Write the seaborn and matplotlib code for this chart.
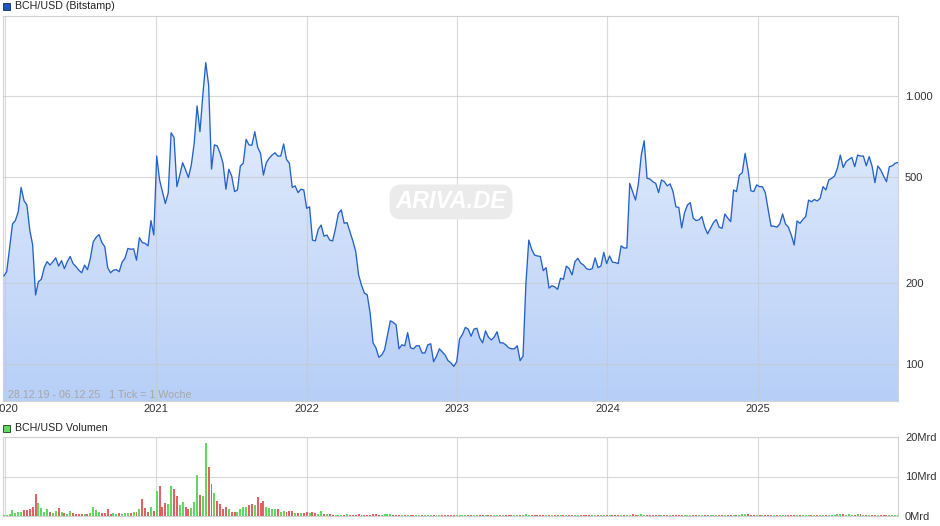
import numpy as np
import pandas as pd
import matplotlib
matplotlib.use("Agg")
import matplotlib.pyplot as plt
import seaborn as sns
from matplotlib.patches import Rectangle
from matplotlib.image import AxesImage
from matplotlib.colors import LinearSegmentedColormap
from matplotlib.ticker import NullLocator

# weekly closes BCH/USD (Bitstamp), 28.12.19 - 06.12.25
price = [
    213, 221, 271, 333, 343, 370, 456, 407, 392, 316,
    278, 181, 203, 207, 229, 241, 234, 241, 249, 232,
    243, 227, 241, 252, 237, 231, 224, 219, 234, 225,
    248, 286, 297, 304, 284, 274, 229, 219, 224, 225,
    221, 240, 248, 270, 268, 269, 244, 296, 284, 282,
    276, 343, 303, 597, 486, 440, 397, 435, 729, 701,
    459, 507, 564, 530, 496, 553, 666, 918, 736, 1009,
    1332, 1099, 534, 657, 651, 611, 561, 449, 533, 503,
    440, 446, 548, 561, 689, 657, 655, 736, 644, 611,
    507, 564, 586, 602, 614, 597, 597, 662, 580, 561,
    456, 462, 436, 449, 446, 381, 386, 290, 288, 318,
    330, 300, 303, 290, 288, 321, 365, 376, 335, 337,
    312, 288, 263, 215, 197, 184, 181, 155, 120, 115,
    106, 108, 113, 128, 145, 143, 140, 114, 118, 117,
    131, 115, 114, 117, 117, 110, 110, 118, 119, 102,
    107, 114, 111, 108, 103, 101, 98, 102, 124, 129,
    137, 135, 127, 135, 136, 125, 120, 133, 126, 123,
    126, 132, 120, 120, 118, 115, 114, 114, 117, 103,
    107, 200, 290, 268, 255, 253, 252, 223, 229, 192,
    196, 194, 190, 209, 207, 232, 227, 215, 241, 248,
    238, 234, 227, 225, 227, 249, 229, 232, 261, 237,
    253, 240, 239, 237, 276, 271, 271, 472, 440, 409,
    472, 602, 681, 493, 490, 479, 472, 436, 486, 479,
    462, 470, 440, 386, 384, 322, 367, 392, 400, 350,
    343, 345, 355, 324, 306, 321, 337, 346, 324, 321,
    363, 350, 340, 446, 440, 507, 517, 611, 530, 443,
    440, 466, 459, 459, 436, 376, 327, 327, 324, 333,
    363, 333, 324, 303, 278, 342, 335, 346, 355, 409,
    403, 411, 406, 415, 459, 446, 486, 493, 503, 538,
    602, 541, 569, 580, 590, 545, 602, 597, 597, 549,
    594, 548, 475, 548, 530, 503, 479, 545, 549, 561,
    565,
]

# weekly volume in Mrd USD
volume = [
    0.25, 0.25, 0.5, 1.5, 0.85, 1.0, 1.0, 1.5, 1.5, 1.75,
    2.3, 5.6, 3.3, 2.0, 1.0, 1.7, 1.0, 0.85, 1.3, 2.0,
    1.0, 0.85, 0.6, 1.3, 0.75, 0.5, 0.5, 0.5, 0.5, 0.5,
    0.7, 2.3, 1.5, 1.0, 0.75, 0.75, 1.75, 0.5, 0.75, 0.5,
    0.75, 0.5, 0.75, 0.75, 0.75, 1.0, 1.0, 1.75, 4.3, 2.0,
    1.0, 2.3, 1.3, 6.3, 7.6, 2.3, 3.3, 3.0, 7.6, 6.8,
    5.1, 2.8, 3.6, 2.3, 1.8, 2.0, 3.6, 10.4, 5.3, 5.1,
    18.5, 12.4, 8.1, 5.9, 3.8, 3.0, 1.8, 2.3, 1.8, 1.0,
    1.0, 1.0, 1.75, 2.3, 2.3, 2.8, 3.0, 2.8, 4.8, 3.3,
    3.8, 2.3, 2.0, 1.75, 1.75, 1.75, 1.0, 1.3, 1.0, 1.3,
    1.3, 0.75, 0.75, 0.75, 0.75, 1.0, 0.75, 1.0, 0.75, 0.5,
    1.3, 0.5, 0.5, 0.5, 0.3, 0.3, 0.3, 0.3, 0.3, 0.5,
    0.3, 0.3, 0.3, 0.5, 0.3, 0.3, 0.3, 0.3, 0.4, 0.4,
    0.3, 0.3, 0.4, 0.4, 0.4, 0.3, 0.25, 0.25, 0.2, 0.2,
    0.2, 0.2, 0.2, 0.2, 0.2, 0.2, 0.2, 0.2, 0.2, 0.2,
    0.2, 0.2, 0.2, 0.2, 0.2, 0.2, 0.25, 0.2, 0.25, 0.2,
    0.2, 0.2, 0.2, 0.2, 0.2, 0.2, 0.2, 0.2, 0.2, 0.2,
    0.2, 0.2, 0.2, 0.2, 0.2, 0.2, 0.2, 0.2, 0.2, 0.2,
    0.2, 0.45, 0.3, 0.25, 0.2, 0.2, 0.2, 0.2, 0.2, 0.2,
    0.2, 0.2, 0.2, 0.2, 0.2, 0.2, 0.2, 0.2, 0.2, 0.2,
    0.2, 0.2, 0.2, 0.2, 0.2, 0.2, 0.2, 0.2, 0.2, 0.2,
    0.2, 0.2, 0.2, 0.2, 0.2, 0.2, 0.2, 0.3, 0.5, 0.3,
    0.3, 0.45, 0.35, 0.25, 0.2, 0.2, 0.2, 0.2, 0.2, 0.2,
    0.2, 0.2, 0.2, 0.2, 0.2, 0.2, 0.2, 0.2, 0.2, 0.2,
    0.2, 0.2, 0.2, 0.2, 0.2, 0.2, 0.2, 0.2, 0.2, 0.2,
    0.2, 0.2, 0.2, 0.3, 0.25, 0.3, 0.45, 0.45, 0.4, 0.3,
    0.2, 0.2, 0.2, 0.2, 0.2, 0.2, 0.2, 0.2, 0.2, 0.2,
    0.3, 0.2, 0.2, 0.2, 0.2, 0.2, 0.2, 0.2, 0.2, 0.2,
    0.2, 0.2, 0.2, 0.2, 0.2, 0.3, 0.35, 0.3, 0.3, 0.45,
    0.45, 0.4, 0.35, 0.45, 0.35, 0.3, 0.45, 0.45, 0.35, 0.3,
    0.3, 0.35, 0.3, 0.3, 0.25, 0.25, 0.3, 0.3, 0.3, 0.35,
    0.3,
]

year_ticks = ["2020", "2021", "2022", "2023", "2024", "2025"]
price_ticks = [100, 200, 500, 1000]
price_labels = ["100", "200", "500", "1.000"]
vol_ticks = [0, 10, 20]
vol_labels = ["0Mrd", "10Mrd", "20Mrd"]

df = pd.DataFrame({
    "date": pd.date_range("2019-12-28", periods=len(price), freq="7D"),
    "price": price,
    "volume": volume,
})
up = df["price"].diff().fillna(1) >= 0
bar_colors = np.where(up, "#62d862", "#e06262")

sns.set_style("white")
plt.rcParams["font.family"] = ["Liberation Sans", "DejaVu Sans"]

W, H = 940, 526
fig = plt.figure(figsize=(W / 100, H / 100), dpi=100)
ax = fig.add_axes([3 / W, 1 - 401 / H, 895 / W, 385 / H])
axv = fig.add_axes([3 / W, 1 - 516 / H, 895 / W, 79 / H])

xmin = df["date"].iloc[0] - pd.Timedelta(days=2)
xmax = df["date"].iloc[-1]
grid_c = "#c9c9c9"
frame_c = "#d2d2d2"
tick_c = "#333333"

# price panel
sns.lineplot(data=df, x="date", y="price", ax=ax, color="#2461c8",
             linewidth=0.95, zorder=4)
ax.set_yscale("log")
poly = ax.fill_between(df["date"], df["price"], 10, color="none", lw=0)
cmap = LinearSegmentedColormap.from_list("area", ["#b7cff7", "#eef4fe"])
im = AxesImage(ax, cmap=cmap, origin="lower", extent=[0, 1, 0, 1],
               transform=ax.transAxes, interpolation="bilinear", zorder=1)
im.set_data(np.linspace(0, 1, 256).reshape(-1, 1))
ax.add_image(im)
im.set_clip_path(poly.get_paths()[0], ax.transData)

ax.set_xlim(xmin, xmax)
ax.set_ylim(72.8, 1988)
ax.set_yticks(price_ticks)
ax.set_yticklabels(price_labels)
ax.yaxis.set_minor_locator(NullLocator())
ax.yaxis.tick_right()
ax.set_xticks(pd.to_datetime([y + "-01-01" for y in year_ticks]))
ax.set_xticklabels(year_ticks)
ax.tick_params(length=0, labelsize=8, colors=tick_c)
ax.tick_params(axis="x", pad=2)
ax.tick_params(axis="y", pad=5)
ax.set_xlabel("")
ax.set_ylabel("")
ax.set_axisbelow(False)
ax.grid(True, color=grid_c, alpha=0.7, lw=0.8, zorder=2)
for s in ax.spines.values():
    s.set_color(frame_c)
    s.set_linewidth(0.8)

ax.text(0.5006, 0.517, "ARIVA.DE", transform=ax.transAxes, ha="center",
        va="center", fontsize=17, fontstyle="italic", fontweight="bold",
        color="white", zorder=3,
        bbox=dict(boxstyle="round,pad=0.25,rounding_size=0.5",
                  fc="#ebebeb", ec="none"))
ax.text(0.006, 0.016, "28.12.19 - 06.12.25   1 Tick = 1 Woche",
        transform=ax.transAxes, ha="left", va="center", fontsize=7.7,
        color="#a6a6a6", zorder=5)

# volume panel
axv.bar(df["date"], df["volume"], width=4.8, color=bar_colors,
        linewidth=0, antialiased=False, zorder=3)
axv.set_xlim(xmin, xmax)
axv.set_ylim(0, 20)
axv.set_yticks(vol_ticks)
axv.set_yticklabels(vol_labels)
axv.yaxis.tick_right()
axv.set_xticks(pd.to_datetime([y + "-01-01" for y in year_ticks]))
axv.set_xticklabels([])
axv.tick_params(length=0, labelsize=8, colors=tick_c, pad=5)
axv.grid(True, color=grid_c, alpha=0.7, lw=0.8)
axv.set_axisbelow(True)
for s in axv.spines.values():
    s.set_color(frame_c)
    s.set_linewidth(0.8)

# legend squares and titles
fig.add_artist(Rectangle((3 / W, 1 - 10 / H), 7 / W, 7 / H,
                         transform=fig.transFigure, fc="#1d56c0",
                         ec="#1b2b55", lw=0.6))
fig.text(15 / W, 1 - 6 / H, "BCH/USD (Bitstamp)", fontsize=7.7,
         color="#222222", va="center", ha="left")
fig.add_artist(Rectangle((3 / W, 1 - 432 / H), 7 / W, 7 / H,
                         transform=fig.transFigure, fc="#62d862",
                         ec="#1f3a1f", lw=0.6))
fig.text(15 / W, 1 - 428 / H, "BCH/USD Volumen", fontsize=7.7,
         color="#222222", va="center", ha="left")

fig.savefig("out.png", dpi=100)
